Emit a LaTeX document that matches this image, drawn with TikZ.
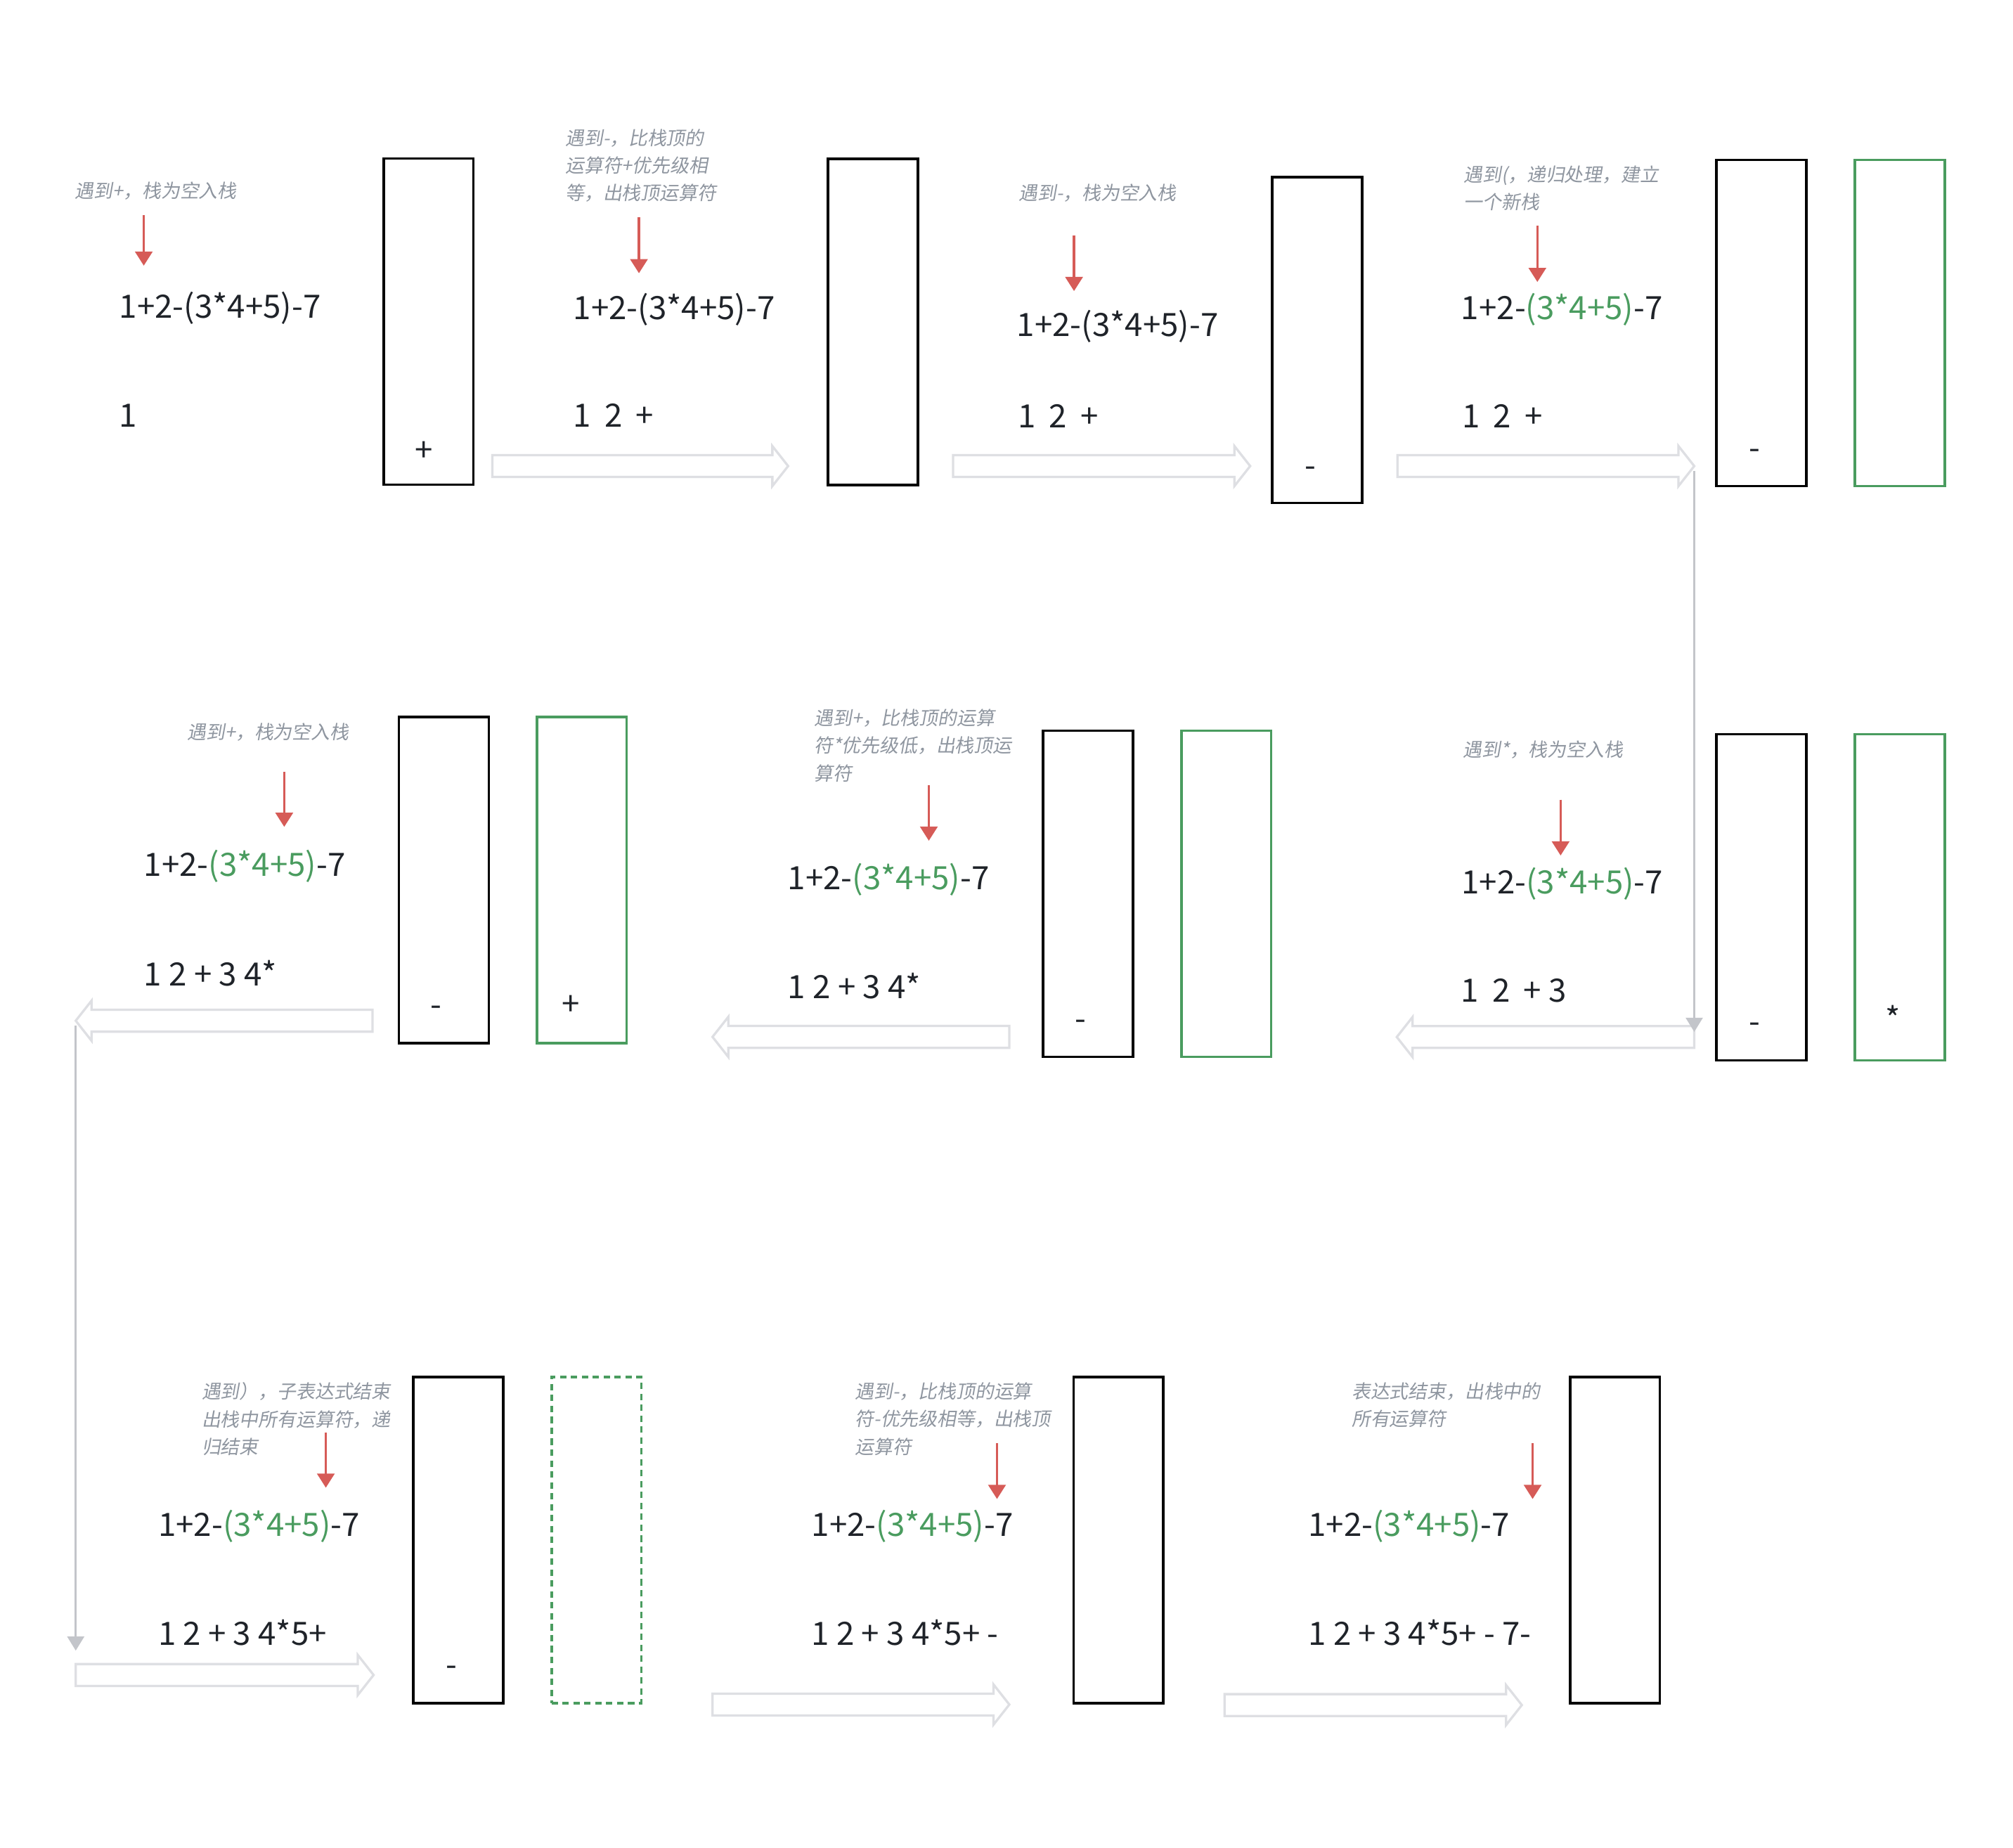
\documentclass[tikz,border=0pt]{standalone}
\usepackage{fontspec}
\setmainfont{Noto Sans CJK SC}
\newfontfamily\notefont[FakeSlant=0.18]{Noto Sans CJK SC}
\usetikzlibrary{calc,arrows.meta}
\definecolor{ink}{HTML}{1F2329}
\definecolor{grn}{HTML}{4A9C5F}
\definecolor{redmark}{HTML}{D65B57}
\definecolor{notegray}{HTML}{8F96A0}
\definecolor{pale}{HTML}{DEDFE3}
\definecolor{linkgray}{HTML}{C3C5CA}
\def\opgap{\hspace{0.42em}}
\def\blockarrow[#1](#2)(#3){\draw[#1] let \p1=(#2), \p2=(#3), \n1={(\x2>\x1) ? 1 : -1} in (\x1,{\y1-8.5pt}) -- ({\x2-\n1*12.3pt},{\y1-8.5pt}) -- ({\x2-\n1*12.3pt},{\y1-15.6pt}) -- (\x2,\y1) -- ({\x2-\n1*12.3pt},{\y1+15.6pt}) -- ({\x2-\n1*12.3pt},{\y1+8.5pt}) -- (\x1,{\y1+8.5pt}) -- cycle;}
\tikzset{
	stackbox/.style={draw=black, line width=2pt, minimum width=70pt, minimum height=254pt, inner sep=0pt, outer sep=0pt},
	newstack/.style={stackbox, draw=grn},
	endstack/.style={newstack, dash pattern=on 5pt off 3.5pt},
	expr/.style={font=\fontsize{25}{29}\selectfont, text=ink, inner sep=0pt, anchor=base west},
	op/.style={font=\fontsize{25}{29}\selectfont, text=ink, inner sep=0pt},
	note/.style={font=\notefont\fontsize{14.7}{21.5}\selectfont, text=notegray, align=left, inner sep=0pt, anchor=north west},
	pointer/.style={draw=redmark, line width=1.8pt, -{Triangle[length=11pt,width=13.5pt]}},
	hollow/.style={draw=pale, line width=1.8pt},
	link/.style={draw=linkgray, line width=1.8pt, -{Triangle[length=11pt,width=13pt]}}
}
\newcommand{\sub}[1]{\textcolor{grn}{#1}}

\begin{document}
\begin{tikzpicture}[x=1pt,y=-1pt]
		%%%%% START %%%%%
		\useasboundingbox[fill=white] (0,0) rectangle (1568,1439);
		
		% row 1
		\node[note] (n1) at (58.3,141.4) {遇到+，栈为空入栈};
		\coordinate (p1) at (112,167.4);
		\draw[pointer] (p1) -- ++(0,39.5);
		\node[expr] (e1) at (92.8,247.7) {1+2-(3*4+5)-7};
		\node[expr] (r1) at (92.8,332.7) {1};
		\node[stackbox] (s1) at (333.8,250.4) {};
		\node[op] (o1) at (330.3,351.4) {+};
		
		\node[note] (n2) at (440.2,100.3) {遇到-，比栈顶的\\运算符+优先级相\\等，出栈顶运算符};
		\coordinate (p2) at (497.7,169.3);
		\draw[pointer] (p2) -- ++(0,43.5);
		\node[expr] (e2) at (446.5,248.9) {1+2-(3*4+5)-7};
		\node[expr] (r2) at (446.5,332.7) {1\opgap2\opgap+};
		\node[stackbox] (s2) at (680.1,250.9) {};
		
		\node[note] (n3) at (793.4,143.2) {遇到-，栈为空入栈};
		\coordinate (p3) at (836.6,183.4);
		\draw[pointer] (p3) -- ++(0,43.3);
		\node[expr] (e3) at (791.9,262) {1+2-(3*4+5)-7};
		\node[expr] (r3) at (792.6,333.4) {1\opgap2\opgap+};
		\node[stackbox] (s3) at (1026,264.8) {};
		\node[op] (o3) at (1020.6,367.4) {-};
		
		\node[note] (n4) at (1140,128.7) {遇到(，递归处理，建立\\一个新栈};
		\coordinate (p4) at (1197.5,175.6);
		\draw[pointer] (p4) -- ++(0,44);
		\node[expr] (e4) at (1138,248.8) {1+2-\sub{(3*4+5)}-7};
		\node[expr] (r4) at (1138.6,333.4) {1\opgap2\opgap+};
		\node[stackbox] (s4) at (1372,251.5) {};
		\node[newstack] (g4) at (1479.9,251.5) {};
		\node[op] (o4) at (1366.6,353.7) {-};
		
		\coordinate (a1s) at (383.5,363);
		\coordinate (a1e) at (613.9,363);
		\coordinate (a2s) at (742.4,363);
		\coordinate (a2e) at (973.8,363);
		\coordinate (a3s) at (1088.5,363);
		\coordinate (a3e) at (1319.7,363);
		\blockarrow[hollow](a1s)(a1e)
		\blockarrow[hollow](a2s)(a2e)
		\blockarrow[hollow](a3s)(a3e)
		
		% row 2
		\node[note] (n5) at (1139.6,576.8) {遇到*，栈为空入栈};
		\coordinate (p5) at (1215.6,622.8);
		\draw[pointer] (p5) -- ++(0,43.5);
		\node[expr] (e5) at (1138.2,696) {1+2-\sub{(3*4+5)}-7};
		\node[expr] (r5) at (1138,780.6) {1\opgap2\opgap+ 3};
		\node[stackbox] (s5) at (1372.1,698.8) {};
		\node[newstack] (g5) at (1479.9,698.8) {};
		\node[op] (o5) at (1366.5,800.7) {-};
		\node[op] (q5) at (1474.4,793.2) {*};
		
		\node[note] (n6) at (634,552.2) {遇到+，比栈顶的运算\\符*优先级低，出栈顶运\\算符};
		\coordinate (p6) at (723.5,611.8);
		\draw[pointer] (p6) -- ++(0,43);
		\node[expr] (e6) at (613.5,692.9) {1+2-\sub{(3*4+5)}-7};
		\node[expr] (r6) at (613.5,777.9) {1 2 + 3 4*};
		\node[stackbox] (s6) at (847.4,696.1) {};
		\node[newstack] (g6) at (955.2,696.1) {};
		\node[op] (o6) at (841.9,798.2) {-};
		
		\node[note] (n7) at (145.8,563) {遇到+，栈为空入栈};
		\coordinate (p7) at (221.4,601.1);
		\draw[pointer] (p7) -- ++(0,42.9);
		\node[expr] (e7) at (111.9,682.7) {1+2-\sub{(3*4+5)}-7};
		\node[expr] (r7) at (112,767.6) {1 2 + 3 4*};
		\node[stackbox] (s7) at (345.7,685.5) {};
		\node[newstack] (g7) at (453.1,685.5) {};
		\node[op] (o7) at (339.5,787.5) {-};
		\node[op] (q7) at (444.9,783.2) {+};
		
		\coordinate (a4s) at (1319.7,807.7);
		\coordinate (a4e) at (1088,807.7);
		\coordinate (a5s) at (786.2,807.6);
		\coordinate (a5e) at (555,807.6);
		\coordinate (a6s) at (290.2,795);
		\coordinate (a6e) at (59,795);
		\blockarrow[hollow](a4s)(a4e)
		\blockarrow[hollow](a5s)(a5e)
		\blockarrow[hollow](a6s)(a6e)
		
		% row 3
		\node[note] (n8) at (157,1076.6) {遇到），子表达式结束\\出栈中所有运算符，递\\归结束};
		\coordinate (p8) at (253.8,1115.7);
		\draw[pointer] (p8) -- ++(0,43);
		\node[expr] (e8) at (123.1,1196.7) {1+2-\sub{(3*4+5)}-7};
		\node[expr] (r8) at (123.1,1281.3) {1 2 + 3 4*5+};
		\node[stackbox] (s8) at (356.9,1199.4) {};
		\node[endstack] (g8) at (464.6,1199.4) {};
		\node[op] (o8) at (351.5,1301.5) {-};
		
		\node[note] (n9) at (666,1076.6) {遇到-，比栈顶的运算\\符-优先级相等，出栈顶\\运算符};
		\coordinate (p9) at (776.6,1124);
		\draw[pointer] (p9) -- ++(0,43.5);
		\node[expr] (e9) at (632.1,1196.7) {1+2-\sub{(3*4+5)}-7};
		\node[expr] (r9) at (632,1281.3) {1 2 + 3 4*5+ -};
		\node[stackbox] (s9) at (871.2,1199.4) {};
		
		\node[note] (n10) at (1052.7,1076.6) {表达式结束，出栈中的\\所有运算符};
		\coordinate (p10) at (1193.8,1124);
		\draw[pointer] (p10) -- ++(0,43.5);
		\node[expr] (e10) at (1018.9,1196.7) {1+2-\sub{(3*4+5)}-7};
		\node[expr] (r10) at (1018.9,1281.3) {1 2 + 3 4*5+ - 7-};
		\node[stackbox] (s10) at (1257.9,1199.4) {};
		
		\coordinate (a7s) at (59,1304.6);
		\coordinate (a7e) at (291,1304.6);
		\coordinate (a8s) at (555,1327.6);
		\coordinate (a8e) at (786.2,1327.6);
		\coordinate (a9s) at (953.9,1328);
		\coordinate (a9e) at (1185.4,1328);
		\blockarrow[hollow](a7s)(a7e)
		\blockarrow[hollow](a8s)(a8e)
		\blockarrow[hollow](a9s)(a9e)
		
		% turns between rows
		\draw[link] ($(a3e)+(0,4)$) -- ($(a4s)+(0,-4)$);
		\draw[link] ($(a6e)+(0,4)$) -- ($(a7s)+(0,-19)$);
		
		%%%%% END %%%%%
\end{tikzpicture}
\end{document}
